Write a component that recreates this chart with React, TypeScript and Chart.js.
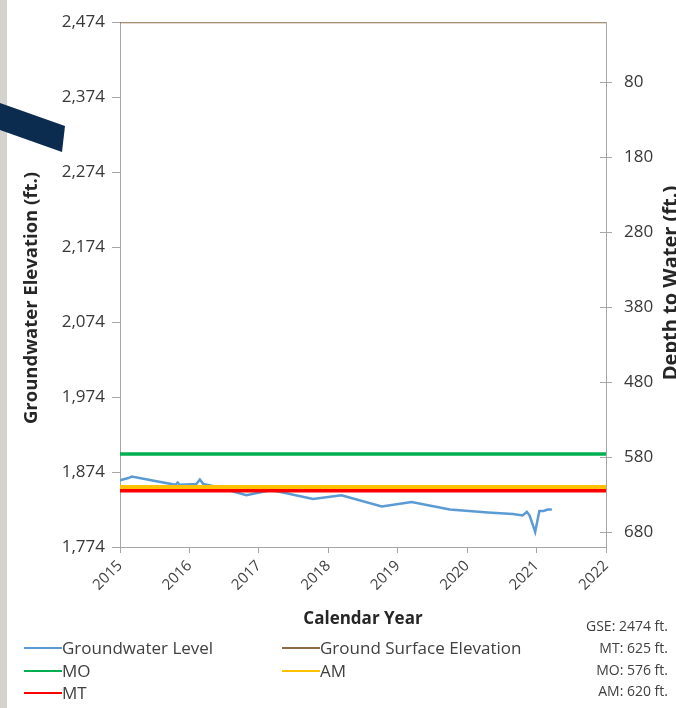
import React, { useEffect, useRef } from 'react';
import { Chart, registerables } from 'chart.js';

Chart.register(...registerables);

const FONT = '"Open Sans", "DejaVu Sans", sans-serif';

const xYears = [2015, 2016, 2017, 2018, 2019, 2020, 2021, 2022];
const leftTicks = [1774, 1874, 1974, 2074, 2174, 2274, 2374, 2474];
const rightTicks = [80, 180, 280, 380, 480, 580, 680];

const gwYears = [2015.0, 2015.12, 2015.17, 2015.45, 2015.8, 2015.83, 2015.86, 2016.1, 2016.15, 2016.2, 2016.4, 2016.82, 2017.18, 2017.78, 2018.19, 2018.77, 2019.2, 2019.75, 2020.3, 2020.66, 2020.8, 2020.86, 2020.9, 2020.98, 2021.04, 2021.1, 2021.16, 2021.22];
const gwElev = [1863, 1866, 1868, 1863, 1857, 1860, 1857, 1858, 1864, 1858, 1854, 1843, 1850, 1838, 1843, 1828, 1834, 1824, 1820, 1818, 1816, 1821, 1816, 1794, 1822, 1822, 1824, 1824];

const GSE = 2474;
const MT_DEPTH = 625;
const MO_DEPTH = 576;
const AM_DEPTH = 620;

const legendItems = [
  { label: 'Groundwater Level', color: '#5B9BD5' },
  { label: 'Ground Surface Elevation', color: '#8C6A46' },
  { label: 'MO', color: '#00B050' },
  { label: 'AM', color: '#FFC000' },
  { label: 'MT', color: '#FF0000' },
];
const infoLines = ['GSE: 2474 ft.', 'MT: 625 ft.', 'MO: 576 ft.', 'AM: 620 ft.'];

const flat = (v: number) => [{ x: 2015, y: v }, { x: 2022, y: v }];

const decoPlugin = {
  id: 'deco',
  beforeDraw(chart: any) {
    const { ctx, width, height } = chart;
    ctx.save();
    ctx.fillStyle = '#ffffff';
    ctx.fillRect(0, 0, width, height);
    ctx.restore();
  },
  afterDraw(chart: any) {
    const { ctx, chartArea } = chart;
    ctx.save();
    // axis titles
    ctx.fillStyle = '#262626';
    ctx.textAlign = 'center';
    ctx.textBaseline = 'alphabetic';
    ctx.save();
    ctx.font = `bold 18.5px ${FONT}`;
    ctx.translate(37, 298);
    ctx.rotate(-Math.PI / 2);
    ctx.fillText('Groundwater Elevation (ft.)', 0, 0);
    ctx.restore();
    ctx.save();
    ctx.font = `bold 20px ${FONT}`;
    ctx.translate(677, 283);
    ctx.rotate(-Math.PI / 2);
    ctx.fillText('Depth to Water (ft.)', 0, 0);
    ctx.restore();
    // right axis cross ticks
    const y2 = chart.scales.y2;
    ctx.strokeStyle = '#A6A6A6';
    ctx.lineWidth = 1;
    rightTicks.forEach((t) => {
      const py = Math.round(y2.getPixelForValue(t)) + 0.5;
      ctx.beginPath();
      ctx.moveTo(chartArea.right - 6, py);
      ctx.lineTo(chartArea.right, py);
      ctx.stroke();
    });
    // left decorative strip and bar
    ctx.fillStyle = '#d4d2cd';
    ctx.fillRect(0, 0, 7, 708);
    ctx.fillStyle = '#0B2C4E';
    ctx.beginPath();
    ctx.moveTo(0, 103);
    ctx.lineTo(65, 126);
    ctx.lineTo(62, 152);
    ctx.lineTo(0, 130);
    ctx.closePath();
    ctx.fill();
    ctx.restore();
  },
};

export default function App() {
  const ref = useRef<HTMLCanvasElement | null>(null);

  useEffect(() => {
    document.body.style.margin = '0';
    const canvas = ref.current;
    if (!canvas) return;
    const chart = new Chart(canvas, {
      type: 'line',
      data: {
        datasets: [
          {
            label: 'Ground Surface Elevation',
            data: flat(GSE),
            borderColor: '#8C6A46',
            borderWidth: 2,
            pointRadius: 0,
            yAxisID: 'y',
          },
          {
            label: 'MO',
            data: flat(GSE - MO_DEPTH),
            borderColor: '#00B050',
            borderWidth: 3.5,
            pointRadius: 0,
            yAxisID: 'y',
          },
          {
            label: 'AM',
            data: flat(GSE - AM_DEPTH),
            borderColor: '#FFC000',
            borderWidth: 4,
            pointRadius: 0,
            yAxisID: 'y',
          },
          {
            label: 'MT',
            data: flat(GSE - MT_DEPTH),
            borderColor: '#FF0000',
            borderWidth: 3.5,
            pointRadius: 0,
            yAxisID: 'y',
          },
          {
            label: 'Groundwater Level',
            data: gwYears.map((x, i) => ({ x, y: gwElev[i] })),
            borderColor: '#5B9BD5',
            borderWidth: 2.5,
            pointRadius: 0,
            tension: 0,
            yAxisID: 'y',
          },
        ],
      },
      options: {
        animation: false,
        responsive: false,
        devicePixelRatio: 1,
        layout: { padding: { top: 22, left: 0, right: 0, bottom: 0 } },
        plugins: { legend: { display: false }, tooltip: { enabled: false } },
        scales: {
          x: {
            type: 'linear',
            min: 2015,
            max: 2022,
            afterBuildTicks: (s: any) => {
              s.ticks = xYears.map((v) => ({ value: v }));
            },
            afterFit: (s: any) => {
              s.height = 161;
            },
            ticks: {
              callback: (v: any) => String(v),
              minRotation: 45,
              maxRotation: 45,
              padding: 4,
              color: '#404040',
              font: { family: FONT, size: 15 },
            },
            grid: { drawOnChartArea: false, tickLength: 6, color: '#A6A6A6' },
            border: { color: '#A6A6A6' },
          },
          y: {
            type: 'linear',
            position: 'left',
            min: 1774,
            max: 2474,
            afterBuildTicks: (s: any) => {
              s.ticks = leftTicks.map((v) => ({ value: v }));
            },
            afterFit: (s: any) => {
              s.width = 120;
            },
            ticks: {
              callback: (v: any) => Number(v).toLocaleString('en-US'),
              padding: 7,
              color: '#383838',
              font: { family: FONT, size: 17 },
            },
            grid: { drawOnChartArea: false, tickLength: 8, color: '#A6A6A6' },
            border: { color: '#A6A6A6' },
          },
          y2: {
            type: 'linear',
            position: 'right',
            min: 0,
            max: 700,
            reverse: true,
            afterBuildTicks: (s: any) => {
              s.ticks = rightTicks.map((v) => ({ value: v }));
            },
            afterFit: (s: any) => {
              s.width = 70;
            },
            ticks: {
              callback: (v: any) => String(v),
              padding: 12,
              color: '#383838',
              font: { family: FONT, size: 17 },
            },
            grid: { drawOnChartArea: false, tickLength: 6, color: '#A6A6A6' },
            border: { color: '#A6A6A6' },
          },
        },
      },
      plugins: [decoPlugin],
    } as any);
    return () => chart.destroy();
  }, []);

  const rowY = [648, 671, 693];
  const legendPos = [
    { item: legendItems[0], x: 24, y: rowY[0] },
    { item: legendItems[1], x: 282, y: rowY[0] },
    { item: legendItems[2], x: 24, y: rowY[1] },
    { item: legendItems[3], x: 282, y: rowY[1] },
    { item: legendItems[4], x: 24, y: rowY[2] },
  ];
  const infoY = [626, 648, 670, 691];

  return (
    <div style={{ position: 'relative', width: 676, height: 708, overflow: 'hidden', fontFamily: FONT }}>
      <canvas ref={ref} width={676} height={708} style={{ position: 'absolute', left: 0, top: 0 }} />
      <div
        style={{
          position: 'absolute',
          left: 263,
          width: 200,
          top: 618 - 12,
          height: 24,
          lineHeight: '24px',
          textAlign: 'center',
          fontWeight: 'bold',
          fontSize: 17,
          color: '#262626',
        }}
      >
        Calendar Year
      </div>
      {legendPos.map(({ item, x, y }) => (
        <div
          key={item.label}
          style={{ position: 'absolute', left: x, top: y - 12, height: 24, display: 'flex', alignItems: 'center', whiteSpace: 'nowrap' }}
        >
          <span style={{ display: 'inline-block', width: 38, height: 2.5, background: item.color }} />
          <span style={{ fontSize: 17, color: '#404040', lineHeight: '24px' }}>{item.label}</span>
        </div>
      ))}
      {infoLines.map((t, i) => (
        <div
          key={t}
          style={{
            position: 'absolute',
            right: 8,
            top: infoY[i] - 10,
            height: 20,
            lineHeight: '20px',
            fontSize: 14,
            color: '#404040',
            textAlign: 'right',
            whiteSpace: 'nowrap',
          }}
        >
          {t}
        </div>
      ))}
    </div>
  );
}
